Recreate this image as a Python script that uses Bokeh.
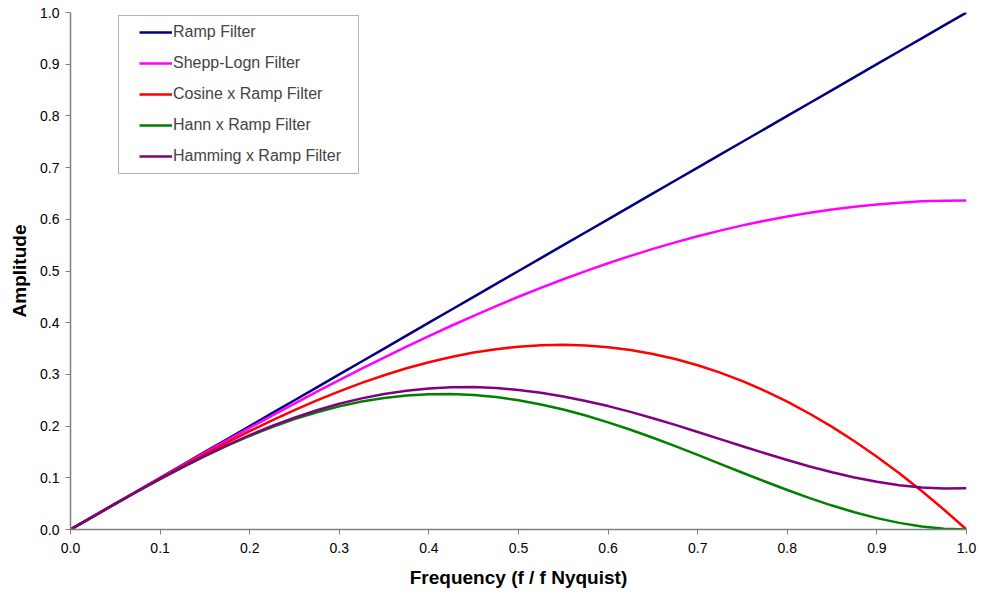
from bokeh.plotting import figure
from bokeh.models import Legend, LegendItem, BoxAnnotation, FixedTicker, CustomJSTickFormatter
from bokeh.embed import file_html
from bokeh.resources import INLINE

freq = [0.000, 0.025, 0.050, 0.075, 0.100, 0.125, 0.150, 0.175, 0.200, 0.225,
        0.250, 0.275, 0.300, 0.325, 0.350, 0.375, 0.400, 0.425, 0.450, 0.475,
        0.500, 0.525, 0.550, 0.575, 0.600, 0.625, 0.650, 0.675, 0.700, 0.725,
        0.750, 0.775, 0.800, 0.825, 0.850, 0.875, 0.900, 0.925, 0.950, 0.975, 1.000]
ramp = [0.000, 0.025, 0.050, 0.075, 0.100, 0.125, 0.150, 0.175, 0.200, 0.225,
        0.250, 0.275, 0.300, 0.325, 0.350, 0.375, 0.400, 0.425, 0.450, 0.475,
        0.500, 0.525, 0.550, 0.575, 0.600, 0.625, 0.650, 0.675, 0.700, 0.725,
        0.750, 0.775, 0.800, 0.825, 0.850, 0.875, 0.900, 0.925, 0.950, 0.975, 1.000]
shepp = [0.0000, 0.0250, 0.0500, 0.0748, 0.0996, 0.1242, 0.1486, 0.1728, 0.1967, 0.2203,
         0.2436, 0.2665, 0.2890, 0.3111, 0.3326, 0.3537, 0.3742, 0.3941, 0.4134, 0.4321,
         0.4502, 0.4675, 0.4841, 0.4999, 0.5150, 0.5293, 0.5428, 0.5554, 0.5672, 0.5781,
         0.5882, 0.5973, 0.6055, 0.6127, 0.6190, 0.6244, 0.6288, 0.6322, 0.6347, 0.6361, 0.6366]
cosine = [0.0000, 0.0250, 0.0498, 0.0745, 0.0988, 0.1226, 0.1459, 0.1684, 0.1902, 0.2111,
          0.2310, 0.2497, 0.2673, 0.2836, 0.2984, 0.3118, 0.3236, 0.3338, 0.3422, 0.3488,
          0.3536, 0.3564, 0.3572, 0.3560, 0.3527, 0.3472, 0.3396, 0.3298, 0.3178, 0.3035,
          0.2870, 0.2682, 0.2472, 0.2239, 0.1984, 0.1707, 0.1408, 0.1087, 0.0746, 0.0383, 0.0000]
hann = [0.0000, 0.0250, 0.0497, 0.0740, 0.0976, 0.1202, 0.1418, 0.1621, 0.1809, 0.1980,
        0.2134, 0.2268, 0.2382, 0.2474, 0.2545, 0.2593, 0.2618, 0.2621, 0.2602, 0.2561,
        0.2500, 0.2419, 0.2320, 0.2204, 0.2073, 0.1929, 0.1775, 0.1612, 0.1443, 0.1271,
        0.1098, 0.0928, 0.0764, 0.0608, 0.0463, 0.0333, 0.0220, 0.0128, 0.0058, 0.0015, 0.0000]
hamming = [0.0000, 0.0250, 0.0497, 0.0740, 0.0978, 0.1206, 0.1425, 0.1631, 0.1824, 0.2002,
           0.2163, 0.2307, 0.2431, 0.2536, 0.2621, 0.2685, 0.2728, 0.2751, 0.2754, 0.2736,
           0.2700, 0.2646, 0.2574, 0.2487, 0.2387, 0.2275, 0.2153, 0.2023, 0.1887, 0.1749,
           0.1610, 0.1474, 0.1343, 0.1219, 0.1106, 0.1006, 0.0922, 0.0858, 0.0814, 0.0794, 0.0800]

series_names = ["Ramp Filter", "Shepp-Logn Filter", "Cosine x Ramp Filter",
                "Hann x Ramp Filter", "Hamming x Ramp Filter"]
series_vals = [ramp, shepp, cosine, hann, hamming]
series_colors = ["#000080", "#FF00FF", "#FF0000", "#008000", "#800080"]

tick_vals = [0.0, 0.1, 0.2, 0.3, 0.4, 0.5, 0.6, 0.7, 0.8, 0.9, 1.0]

FONT = "Liberation Sans"

p = figure(width=982, height=594, output_backend="svg", toolbar_location=None,
           x_range=(0, 1), y_range=(0, 1),
           min_border_left=70, min_border_right=16, min_border_top=12, min_border_bottom=65)
p.outline_line_color = None
p.xgrid.visible = False
p.ygrid.visible = False

renderers = []
for name, vals, col in zip(series_names, series_vals, series_colors):
    r = p.line(freq, vals, line_color=col, line_width=2.5, line_join="round")
    renderers.append((name, r))

for ax in (p.xaxis[0], p.yaxis[0]):
    ax.ticker = FixedTicker(ticks=tick_vals)
    ax.formatter = CustomJSTickFormatter(code="return tick.toFixed(1);")
    ax.axis_line_color = "#808080"
    ax.axis_line_width = 1.5
    ax.major_tick_line_color = "#808080"
    ax.major_tick_in = 0
    ax.major_tick_out = 5
    ax.minor_tick_line_color = None
    ax.major_label_text_font = FONT
    ax.major_label_text_font_size = "14px"
    ax.major_label_text_color = "black"
    ax.axis_label_text_font = FONT
    ax.axis_label_text_font_size = "19px"
    ax.axis_label_text_font_style = "bold"
    ax.axis_label_text_color = "black"

p.xaxis[0].axis_label = "Frequency (f / f Nyquist)"
p.yaxis[0].axis_label = "Amplitude"
p.xaxis[0].major_label_standoff = 8
p.xaxis[0].axis_label_standoff = 11
p.yaxis[0].major_label_standoff = 6
p.yaxis[0].axis_label_standoff = 7

# legend frame box (style only)
box = BoxAnnotation(left=0.0536, right=0.3214, top=0.9942, bottom=0.6886,
                    fill_color="white", fill_alpha=1.0,
                    line_color="black", line_width=1)
p.add_layout(box)

legend = Legend(items=[LegendItem(label=n, renderers=[r]) for n, r in renderers],
                location=(69, 363), padding=7, spacing=11,
                label_height=20, glyph_height=20, glyph_width=33, label_standoff=1,
                label_text_font=FONT, label_text_font_size="16px",
                border_line_color=None, background_fill_alpha=0.0)
p.add_layout(legend, "center")

open("out.html", "w").write(file_html(p, INLINE))
